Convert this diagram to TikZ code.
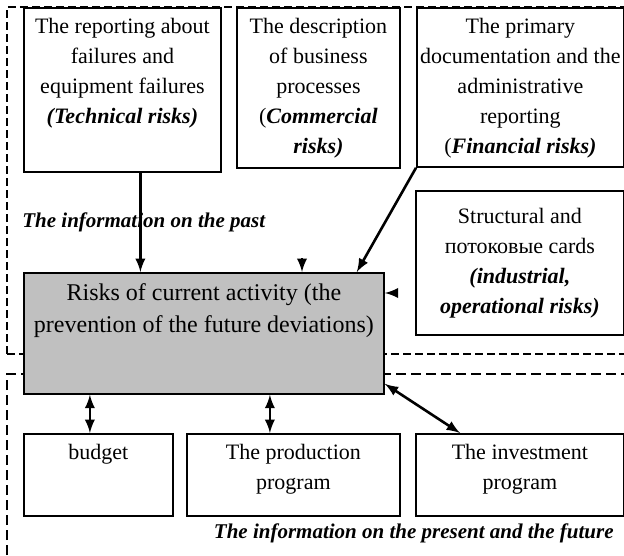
\documentclass[tikz,border=0pt]{standalone}
\usepackage{fontspec}
\setmainfont{Liberation Serif}
\usepackage{tikz}
\usetikzlibrary{shapes,arrows,positioning}
\definecolor{riskgray}{RGB}{192,192,192}
\newcommand{\cardtext}[3]{\parbox[c][#2][t]{#1}{\centering\vspace*{2.5pt}\strut #3}}
\newcommand{\riskname}[1]{\textbf{\textit{#1}}}

\begin{document}
\begin{tikzpicture}[x=0.5pt, y=-0.5pt, >=latex,
    card/.style={draw, line width=0.9pt, fill=white, inner sep=0pt, anchor=north west,
        font=\fontsize{11}{15}\selectfont},
    link/.style={line width=1.3pt}]
    \useasboundingbox (0,0) rectangle (624,555);
    \clip (0,0) rectangle (624,555);

    % the two dashed areas: the past and the present/future
    \draw[dashed, line width=0.7pt, dash pattern=on 4pt off 2pt] (7,354) -- (7,7) -- (640,7);
    \draw[dashed, line width=0.7pt, dash pattern=on 4pt off 2pt] (7,354) -- (640,354);
    \draw[line width=1.1pt, dash pattern=on 5pt off 2.5pt] (7,570) -- (7,374) -- (640,374);

    % sources of information on the past
    \node[card] (tech) at (23,7) {\cardtext{98.5pt}{82pt}{The reporting about\\failures and\\equipment failures\\\riskname{(Technical risks)}}};
    \node[card] (comm) at (236,7) {\cardtext{81.5pt}{80pt}{The description\\of business\\processes\\(\riskname{Commercial}\\\riskname{risks)}}};
    \node[card] (fin) at (416,7) {\cardtext{103.5pt}{79.5pt}{The primary\\documentation and the\\administrative\\reporting\\(\riskname{Financial risks)}}};
    \node[card, align=center, minimum width=104pt, minimum height=72pt, inner sep=0pt] (struct) at (415,190) {Structural and\\потоковые cards\\\riskname{(industrial,}\\\riskname{operational risks)}};

    % current activity
    \node[card, fill=riskgray, font=\fontsize{12}{16}\selectfont] (main) at (23,272) {\cardtext{180pt}{60.5pt}{Risks of current activity (the\\prevention of the future deviations)}};

    % plans
    \node[card] (budget) at (23,433) {\cardtext{74.5pt}{41pt}{budget}};
    \node[card] (prod) at (186,433) {\cardtext{106.5pt}{41pt}{The production\\program}};
    \node[card] (invest) at (415,433) {\cardtext{104pt}{41pt}{The investment\\program}};

    \coordinate (commstub) at (302,258);
    \coordinate (structstub) at (396,293);

    \draw[->, link] ([xshift=9pt]tech.south) -- ([xshift=9pt]tech.south |- main.north);
    \draw[->, link] (fin.south west) -- ([xshift=-14pt]main.north east);
    \draw[->, link] (commstub) -- (commstub |- main.north);
    \draw[->, link] (structstub) -- (structstub -| main.east);
    \draw[<->, link] ([xshift=-4.25pt]budget.north) -- ([xshift=-4.25pt]budget.north |- main.south);
    \draw[<->, link] ([xshift=-11.75pt]prod.north) -- ([xshift=-11.75pt]prod.north |- main.south);
    \draw[<->, link] ([yshift=5.5pt]main.south east) -- ([xshift=22.5pt]invest.north west);

    \node[anchor=west, inner sep=0pt, font=\fontsize{10.5}{12}\selectfont\bfseries\itshape] (pastlabel) at (22,222) {The information on the past};
    \node[anchor=east, inner sep=0pt, font=\fontsize{10.5}{12}\selectfont\bfseries\itshape] (futurelabel) at (614,533) {The information on the present and the future};
\end{tikzpicture}
\end{document}
